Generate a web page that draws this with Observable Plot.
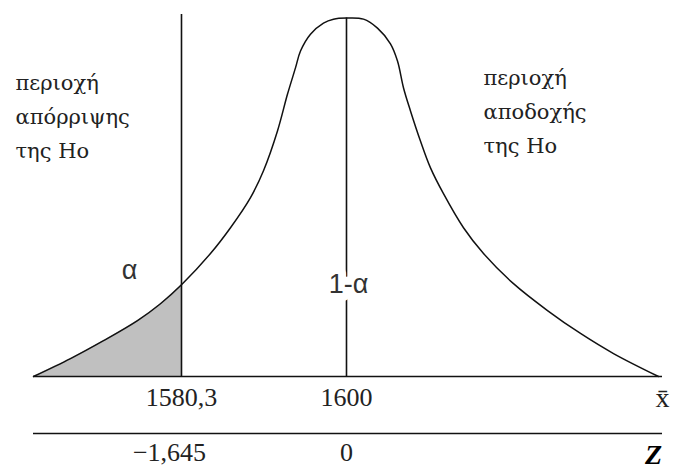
<!DOCTYPE html>
<html>
<head>
<meta charset="utf-8">
<script src="https://cdn.jsdelivr.net/npm/d3@7"></script>
<script src="https://cdn.jsdelivr.net/npm/@observablehq/plot@0.6"></script>
<style>
  body { margin: 0; background: #fff; }
  g[aria-label="region label"] text { letter-spacing: 0.4px; }
</style>
</head>
<body>
<div id="chart"></div>
<script>
// Sample mean values along the curve and the relative height of the density there (peak = 1)
const xbar = [1562.63, 1567.05, 1570.99, 1575.05, 1577.79, 1580.3, 1583.76, 1586.15, 1588.54, 1590.09,
              1591.76, 1592.96, 1593.91, 1594.51, 1595.70, 1597.25, 1598.45, 1600, 1602.03, 1603.70,
              1605.25, 1606.09, 1606.81, 1607.64, 1608.83, 1610.03, 1611.58, 1613.97, 1616.36, 1619.94,
              1624.00, 1627.94, 1631.88, 1637.25];
const density = [0, 0.050, 0.100, 0.156, 0.203, 0.256, 0.343, 0.415, 0.499, 0.574,
                 0.685, 0.788, 0.861, 0.908, 0.955, 0.986, 0.997, 1.0, 0.997, 0.972,
                 0.928, 0.880, 0.805, 0.741, 0.657, 0.582, 0.510, 0.415, 0.343, 0.259,
                 0.184, 0.120, 0.064, 0];

// Axis ticks: sample mean scale and standard normal scale
const xbarTicks = [1580.3, 1600];
const zTicks = [-1.645, 0];

const mean = 1600;
const critical = 1580.3;
const zCritical = -1.645;
const xDomain = [1562.63, 1637.73];

// Region labels
const rejectLabel = ["περιοχή", "απόρριψης", "της Ho"];
const acceptLabel = ["περιοχή", "αποδοχής", "της Ho"];
const alphaLabel = "α";
const confLabel = "1-α";

const sigma = (mean - critical) / -zCritical;
const points = xbar.map((x, i) => ({x, y: density[i]}));
const tail = points.filter(d => d.x <= critical);
const peak = d3.max(density);
const comma = v => (v < 0 ? "\u2212" : "") + String(Math.abs(v)).replace(".", ",");

const serif = "'Liberation Serif', 'DejaVu Serif', serif";
const greekSerif = "'DejaVu Serif', 'Liberation Serif', serif";
const sans = "'Liberation Sans', Arial, sans-serif";
const ink = "#111";
const textInk = "#222";

const chart = Plot.plot({
  width: 675,
  height: 469,
  marginLeft: 33,
  marginRight: 13,
  marginTop: 14,
  marginBottom: 93,
  x: {domain: xDomain, axis: null},
  y: {domain: [0, 1.01], axis: null},
  marks: [
    // shaded rejection tail
    Plot.areaY(tail, {x: "x", y: "y", fill: "#c0c0c0", curve: "catmull-rom"}),
    // density curve
    Plot.line(points, {x: "x", y: "y", stroke: ink, strokeWidth: 1.5, curve: "catmull-rom"}),
    // critical value and mean
    Plot.ruleX([critical], {stroke: ink, strokeWidth: 1.6}),
    Plot.ruleX([mean], {y1: 0, y2: peak, stroke: ink, strokeWidth: 1.6}),
    // x̄ baseline and z line
    Plot.ruleY([0], {stroke: ink, strokeWidth: 1.6}),
    Plot.ruleY([0], {dy: 57, stroke: ink, strokeWidth: 1.6}),

    // x̄ tick labels
    Plot.text(xbarTicks, {
      x: d => d, text: comma, frameAnchor: "bottom", lineAnchor: "top", dy: 11,
      fontFamily: serif, fontSize: 26, fill: textInk
    }),
    // z tick labels
    Plot.text(zTicks.filter(z => z < 0), {
      x: z => mean + z * sigma, text: comma, frameAnchor: "bottom", lineAnchor: "top", dy: 66, dx: -12,
      fontFamily: serif, fontSize: 26, fill: textInk
    }),
    Plot.text(zTicks.filter(z => z >= 0), {
      x: z => mean + z * sigma, text: comma, frameAnchor: "bottom", lineAnchor: "top", dy: 66,
      fontFamily: serif, fontSize: 26, fill: textInk
    }),

    // axis names
    Plot.text(["x\u0304"], {
      frameAnchor: "bottom-right", textAnchor: "middle", lineAnchor: "middle", dy: 22,
      fontFamily: serif, fontSize: 28, fill: textInk
    }),
    Plot.text(["Z"], {
      frameAnchor: "bottom-right", textAnchor: "middle", lineAnchor: "middle", dx: -9, dy: 79,
      fontFamily: serif, fontSize: 28, fontWeight: "bold", fontStyle: "italic", fill: "#000"
    }),

    // region descriptions
    Plot.text([rejectLabel.join("\n")], {
      ariaLabel: "region label",
      frameAnchor: "top-left", textAnchor: "start", lineAnchor: "top", dx: -18, dy: 52,
      lineHeight: 1.6, fontFamily: greekSerif, fontSize: 21, fill: textInk
    }),
    Plot.text([acceptLabel.join("\n")], {
      ariaLabel: "region label",
      frameAnchor: "top-right", textAnchor: "start", lineAnchor: "top", dx: -179, dy: 47,
      lineHeight: 1.6, fontFamily: greekSerif, fontSize: 21, fill: textInk
    }),

    // area labels
    Plot.text([alphaLabel], {
      x: critical, frameAnchor: "bottom", lineAnchor: "middle", dx: -52, dy: -106,
      fontFamily: sans, fontSize: 27, fill: "#333"
    }),
    Plot.text([confLabel], {
      x: mean, frameAnchor: "bottom", lineAnchor: "middle", dx: 2, dy: -92,
      fontFamily: sans, fontSize: 27, fill: "#333",
      stroke: "white", strokeWidth: 16, strokeLinejoin: "round", paintOrder: "stroke"
    })
  ]
});

document.getElementById("chart").append(chart);
</script>
</body>
</html>
